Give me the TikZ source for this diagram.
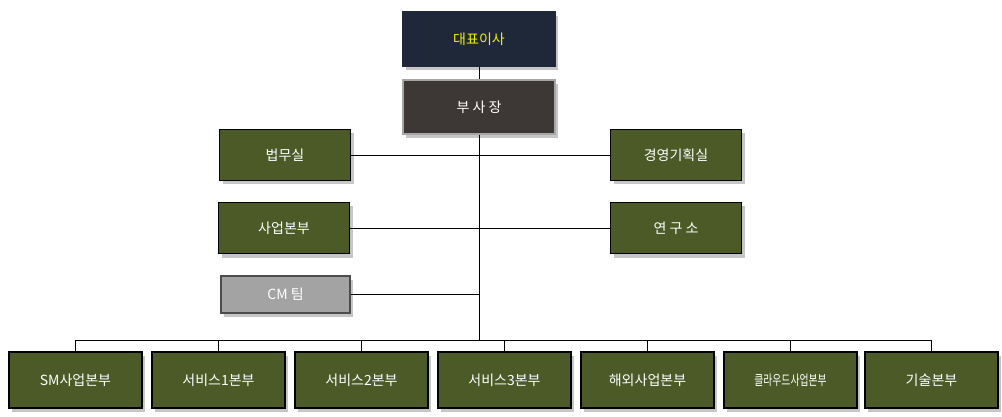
\documentclass[tikz,border=0pt]{standalone}
\usepackage{fontspec}
\setmainfont{Noto Sans CJK KR}
\usetikzlibrary{shadows}
\definecolor{navy}{HTML}{1F2838}
\definecolor{vp}{HTML}{3D3836}
\definecolor{olive}{HTML}{4B5A27}
\definecolor{cmgray}{HTML}{A3A3A3}
\definecolor{ttl}{HTML}{F2F200}
\begin{document}
\begin{tikzpicture}[x=1pt,y=-1pt,
  box/.style={draw=black,line width=1.2pt,fill=olive,text=white,font=\fontsize{14}{16}\selectfont,
    minimum width=131pt,minimum height=51pt,inner sep=0pt,
    drop shadow={shadow xshift=3pt,shadow yshift=-4pt,opacity=0.45}},
  ln/.style={draw=black,line width=0.6pt}]
\useasboundingbox (0,0) rectangle (1002,417);
\node[box,fill=navy,draw=navy,text=ttl,minimum width=152pt,minimum height=54pt] (ceo) at (479,39) {대표이사};
\node[box,fill=vp,draw=gray!70,minimum width=152pt,minimum height=54pt] (vp) at (479,107) {부 사 장};
\node[box] (law) at (285,155) {법무실};
\node[box] (plan) at (676,155) {경영기획실};
\node[box] (biz) at (284,228) {사업본부};
\node[box] (lab) at (676,228) {연 구 소};
\node[box,fill=cmgray,draw=gray!60!black,minimum width=129pt,minimum height=37pt] (cm) at (285.5,294.5) {CM 팀};
\coordinate (bus) at (479,340);
\foreach \n/\x/\t in {b1/75.5/SM사업본부,b2/218.5/서비스1본부,b3/361.5/서비스2본부,b4/504.5/서비스3본부,b5/647.5/해외사업본부,b6/790.5/{\scalebox{0.7}[1]{클라우드사업본부}},b7/931.5/기술본부}{
  \node[box,minimum width=133pt,minimum height=56pt] (\n) at (\x,380) {\t};
}
\draw[ln] (ceo) -- (vp);
\draw[ln] (vp.south) -- (bus);
\draw[ln] (law.east) -- (plan.west);
\draw[ln] (biz.east) -- (lab.west);
\draw[ln] (cm.east) -- (cm.east -| bus);
\draw[ln] (b1.north |- bus) -- (b7.north |- bus);
\foreach \n in {b1,b2,b3,b4,b5,b6,b7}{\draw[ln] (\n.north |- bus) -- (\n.north);}
\end{tikzpicture}
\end{document}
